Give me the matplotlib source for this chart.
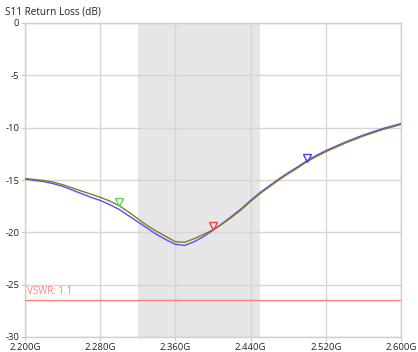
import matplotlib
matplotlib.use("Agg")
import matplotlib.pyplot as plt
import matplotlib.transforms as mtransforms
import numpy as np

freq = [2.20, 2.21, 2.22, 2.23, 2.24, 2.25, 2.26, 2.27, 2.28, 2.29,
        2.30, 2.31, 2.32, 2.33, 2.34, 2.35, 2.36, 2.37, 2.38, 2.39,
        2.40, 2.41, 2.42, 2.43, 2.44, 2.45, 2.46, 2.47, 2.48, 2.49,
        2.50, 2.51, 2.52, 2.53, 2.54, 2.55, 2.56, 2.57, 2.58, 2.59, 2.60]
s11_olive = [-14.85, -14.95, -15.05, -15.2, -15.45, -15.75, -16.05, -16.35, -16.65, -17.0,
             -17.45, -18.05, -18.7, -19.35, -19.9, -20.4, -20.9, -20.95, -20.6, -20.2,
             -19.75, -19.2, -18.55, -17.85, -17.05, -16.3, -15.65, -15.0, -14.4, -13.85,
             -13.25, -12.75, -12.3, -11.9, -11.5, -11.15, -10.8, -10.5, -10.2, -9.95, -9.7]
s11_blue = [-14.9, -15.05, -15.15, -15.35, -15.6, -15.95, -16.3, -16.65, -16.95, -17.35,
            -17.8, -18.4, -19.0, -19.6, -20.2, -20.7, -21.15, -21.25, -20.9, -20.4,
            -19.8, -19.15, -18.45, -17.75, -16.95, -16.2, -15.55, -14.9, -14.3, -13.75,
            -13.15, -12.65, -12.2, -11.8, -11.4, -11.05, -10.7, -10.4, -10.1, -9.85, -9.6]
marker_freq = [2.30, 2.40, 2.50]
marker_val = [-17.45, -19.75, -13.25]
marker_colors = ["#55dd55", "#ee4444", "#4444ee"]
band = [2.32, 2.45]
vswr_level = -26.44
xticks = [2.20, 2.28, 2.36, 2.44, 2.52, 2.60]
xticklabels = ["2.200G", "2.280G", "2.360G", "2.440G", "2.520G", "2.600G"]
yticks = [0, -5, -10, -15, -20, -25, -30]

plt.rcParams['font.family'] = ['Open Sans', 'DejaVu Sans']
fig = plt.figure(figsize=(4.18, 3.52), dpi=100)
ax = fig.add_axes([25/418, 1-337/352, 376/418, 314/352])
ax.set_xlim(2.2, 2.6)
ax.set_ylim(-30, 0)
ax.axvspan(band[0], band[1], color="#e6e6e6", zorder=0, lw=0)
ax.set_xticks(xticks)
ax.set_xticklabels(xticklabels, fontsize=6.8)
ax.set_yticks(yticks)
ax.set_yticklabels([str(v) for v in yticks], fontsize=6.8)
ax.grid(True, color="#d6d6d6", lw=1.0, zorder=1)
ax.set_axisbelow(True)
for s in ax.spines.values():
    s.set_color("#d0d0d0")
    s.set_linewidth(1.0)
ax.tick_params(length=3, color="#c8c8c8", pad=1, labelcolor="#222222")

ax.plot(freq, s11_blue, color="#5050ff", lw=1.0, zorder=3)
ax.plot(freq, s11_olive, color="#8a7a1c", lw=1.0, zorder=4)

ax.axhline(vswr_level, color="#ff8080", lw=1.0, zorder=5)
ax.text(2.202, vswr_level + 0.25, "VSWR: 1.1", color="#ff8080", fontsize=7, va="bottom", ha="left")

off = mtransforms.offset_copy(ax.transData, fig=fig, x=0, y=2.8, units="points")
for f, v, c in zip(marker_freq, marker_val, marker_colors):
    ax.plot([f], [v], marker="v", ms=6, mfc="none", mec=c, mew=1.0, transform=off, zorder=6)

fig.text(5/418, 1-12/352, "S11 Return Loss (dB)", fontsize=7.2, ha="left", va="center", color="#222222")
fig.savefig("out.png", dpi=100)
